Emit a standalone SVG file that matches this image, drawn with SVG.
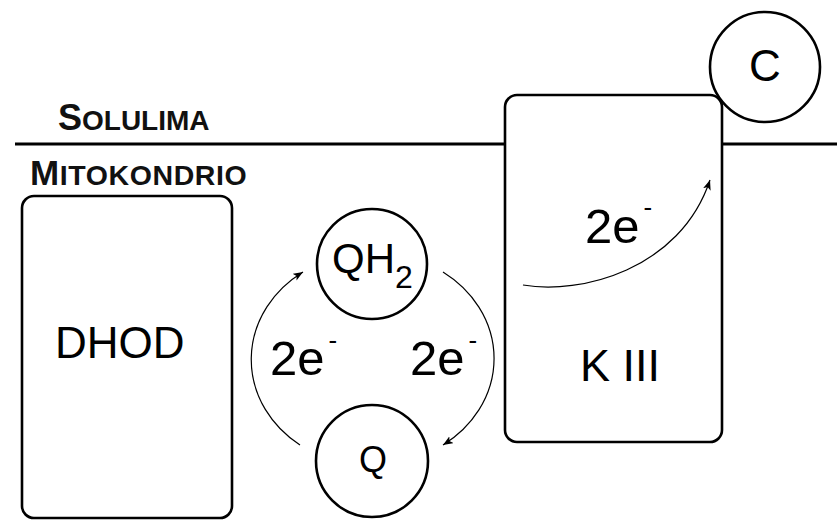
<svg xmlns="http://www.w3.org/2000/svg" width="837" height="521" viewBox="0 0 837 521">
  <style>
    .box { fill: #fff; stroke: #000; stroke-width: 2.6; }
    .mol { fill: #fff; stroke: #000; stroke-width: 2.6; }
    .lbl { font-family: "Liberation Sans", Arial, sans-serif; fill: #000; }
    .region { font-family: "Liberation Sans", Arial, sans-serif; font-weight: bold; fill: #111; }
    .flow { fill: none; stroke: #000; stroke-width: 1.2; marker-end: url(#arrow); }
  </style>
  <defs>
    <marker id="arrow" markerUnits="userSpaceOnUse" markerWidth="12" markerHeight="10" refX="10" refY="4" orient="auto">
      <path d="M0,0 L10,4 L0,8 L2.5,4 Z" fill="#000"/>
    </marker>
  </defs>
  <rect width="837" height="521" fill="#fff"/>

  <g id="membrane">
    <line x1="15" y1="144" x2="837" y2="144" stroke="#000" stroke-width="3"/>
    <text class="region" x="58" y="130"><tspan font-size="36">S</tspan><tspan font-size="28">OLULIMA</tspan></text>
    <text class="region" x="30" y="185" letter-spacing="0.6"><tspan font-size="35">M</tspan><tspan font-size="28.5">ITOKONDRIO</tspan></text>
  </g>

  <g id="node-dhod">
    <rect class="box" x="22" y="196" width="210" height="322" rx="12"/>
    <text class="lbl" x="55" y="358" font-size="44">DHOD</text>
  </g>

  <g id="node-k3">
    <rect class="box" x="505" y="95" width="217" height="347" rx="12"/>
    <text class="lbl" x="580" y="381" font-size="45">K III</text>
  </g>

  <g id="node-c">
    <circle class="mol" cx="765" cy="67" r="55"/>
    <text class="lbl" x="765" y="81" font-size="44" text-anchor="middle">C</text>
  </g>

  <g id="node-qh2">
    <circle class="mol" cx="372" cy="264" r="55"/>
    <text class="lbl" x="332" y="273" font-size="42">QH<tspan font-size="32" dy="15">2</tspan></text>
  </g>

  <g id="node-q">
    <circle class="mol" cx="372" cy="461" r="56"/>
    <text class="lbl" x="373" y="472" font-size="36" text-anchor="middle">Q</text>
  </g>

  <g id="connectors">
    <path class="flow" d="M300,445 A119,106 0 0 1 303,272"/>
    <path class="flow" d="M443,272 A121,106 0 0 1 443,445"/>
    <path class="flow" d="M523,285 C580,295 680,270 710,180"/>
    <text class="lbl" x="270" y="375" font-size="49">2e<tspan font-size="26" dx="4" dy="-26">-</tspan></text>
    <text class="lbl" x="410" y="375" font-size="49">2e<tspan font-size="26" dx="4" dy="-26">-</tspan></text>
    <text class="lbl" x="585" y="243" font-size="49">2e<tspan font-size="26" dx="4" dy="-27">-</tspan></text>
  </g>
</svg>
